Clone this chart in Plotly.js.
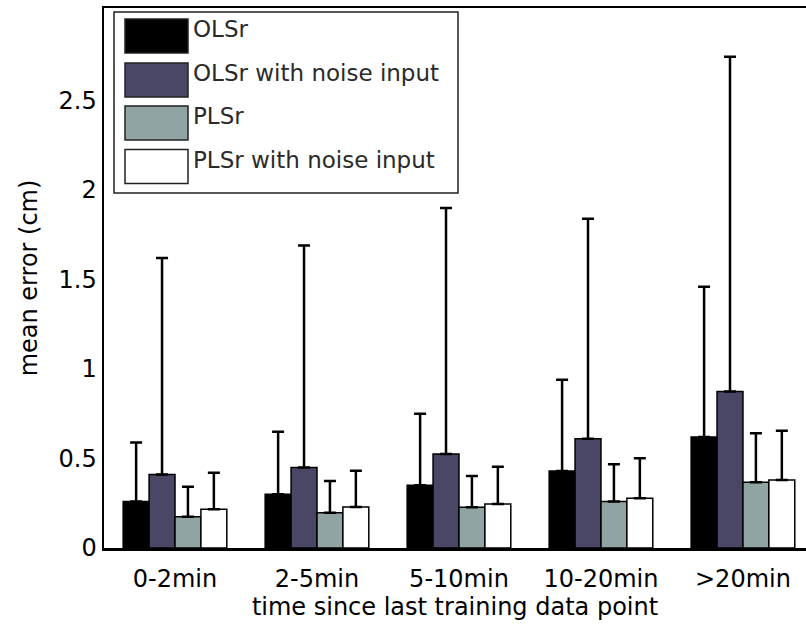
<!DOCTYPE html>
<html>
<head>
<meta charset="utf-8">
<script src="https://cdn.plot.ly/plotly-3.0.1.min.js"></script>
<style>html,body{margin:0;padding:0;background:#fff;}#chart{width:806px;height:626px;}</style>
</head>
<body>
<div id="chart"></div>
<script>
// ---- data ----
var categories = ['0-2min', '2-5min', '5-10min', '10-20min', '>20min'];
var seriesNames = ['OLSr', 'OLSr with noise input', 'PLSr', 'PLSr with noise input'];
var olsrMean        = [0.26, 0.30, 0.35, 0.43, 0.62];
var olsrErrTop      = [0.59, 0.65, 0.75, 0.94, 1.46];
var olsrNoiseMean   = [0.41, 0.45, 0.525, 0.61, 0.875];
var olsrNoiseErrTop = [1.62, 1.69, 1.90, 1.84, 2.745];
var plsrMean        = [0.175, 0.197, 0.227, 0.26, 0.367];
var plsrErrTop      = [0.342, 0.374, 0.402, 0.468, 0.641];
var plsrNoiseMean   = [0.216, 0.229, 0.246, 0.278, 0.38];
var plsrNoiseErrTop = [0.421, 0.432, 0.454, 0.501, 0.655];
var yTicks = [0, 0.5, 1, 1.5, 2, 2.5];
var yTickText = ['0', '0.5', '1', '1.5', '2', '2.5'];

// ---- styles ----
var colors = ['#000000', '#4a4665', '#90a4a4', '#ffffff'];
var means = [olsrMean, olsrNoiseMean, plsrMean, plsrNoiseMean];
var tops = [olsrErrTop, olsrNoiseErrTop, plsrErrTop, plsrNoiseErrTop];
var FONT = 'DejaVu Sans, Arial, sans-serif';

var traces = means.map(function (m, i) {
  return {
    type: 'bar',
    name: seriesNames[i],
    x: categories,
    y: m,
    marker: {color: colors[i], line: {color: '#000', width: 1.5}},
    error_y: {
      type: 'data', symmetric: false,
      array: m.map(function (v, k) { return tops[i][k] - v; }),
      arrayminus: m.map(function () { return 0; }),
      color: '#000', thickness: 2.5, width: 6
    },
    showlegend: false
  };
});

// plot area in pixels
var L = 104, R = 806, T = 8, B = 548;
function px(x) { return (x - L) / (R - L); }
function py(y) { return (B - y) / (B - T); }

var shapes = [];
var annotations = [];
// legend box
shapes.push({type: 'rect', xref: 'paper', yref: 'paper', x0: px(114), x1: px(458), y0: py(193), y1: py(12),
  line: {color: '#222', width: 1.5}, fillcolor: '#fff', layer: 'above'});
var rowCenters = [36, 80, 123, 166.5];
for (var i = 0; i < seriesNames.length; i++) {
  var c = rowCenters[i];
  shapes.push({type: 'rect', xref: 'paper', yref: 'paper', x0: px(125), x1: px(188), y0: py(c + 17), y1: py(c - 17),
    line: {color: '#222', width: 1.5}, fillcolor: colors[i], layer: 'above'});
  annotations.push({xref: 'paper', yref: 'paper', x: px(191), y: py(c - 7), xanchor: 'left', yanchor: 'middle',
    text: seriesNames[i], showarrow: false, font: {family: FONT, size: 23, color: '#2a2a2a'}});
}

var layout = {
  width: 806, height: 626,
  margin: {l: L, r: 806 - R, t: T, b: 626 - B},
  paper_bgcolor: '#fff', plot_bgcolor: '#fff',
  barmode: 'group', bargap: 0.27, bargroupgap: 0,
  font: {family: FONT, size: 24, color: '#000'},
  xaxis: {
    range: [-0.5, 4.444], showline: true, mirror: true, linecolor: '#000', linewidth: 2.5,
    ticks: '', showgrid: false, zeroline: false, ticklabelstandoff: 8,
    tickfont: {family: FONT, size: 24, color: '#000'},
    title: {text: 'time since last training data point', font: {family: FONT, size: 24, color: '#000'}, standoff: 2}
  },
  yaxis: {
    range: [0, 3.017], showline: true, mirror: false, linecolor: '#000', linewidth: 2.5,
    ticks: '', showgrid: false, zeroline: false, tickvals: yTicks, ticktext: yTickText,
    tickfont: {family: FONT, size: 24, color: '#000'},
    title: {text: 'mean error (cm)', font: {family: FONT, size: 24, color: '#000'}, standoff: 14}
  },
  shapes: shapes,
  annotations: annotations,
  showlegend: false
};

Plotly.newPlot('chart', traces, layout, {displayModeBar: false, staticPlot: true});
</script>
</body>
</html>
